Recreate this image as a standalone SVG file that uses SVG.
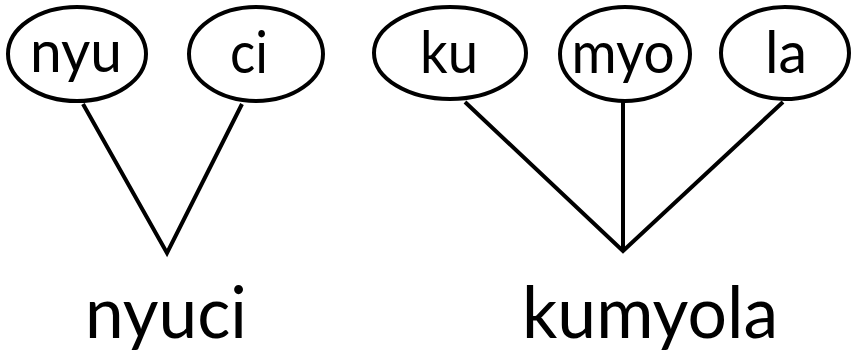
<svg xmlns="http://www.w3.org/2000/svg" width="852" height="357" viewBox="0 0 852 357">
<style>
.node ellipse{fill:#fff;stroke:#000;stroke-width:4}
.lbl{font-family:Lato,"Open Sans","Liberation Sans",sans-serif;font-size:58px;fill:#000;text-anchor:middle}
.word{font-family:Lato,"Open Sans","Liberation Sans",sans-serif;font-size:72px;fill:#000;text-anchor:middle}
.conn{fill:none;stroke:#000;stroke-width:4;stroke-linejoin:miter;stroke-miterlimit:20}
</style>
<rect width="852" height="357" fill="#fff"/>
<g id="connectors" class="conn">
<polyline points="83,104 167,253 242,104"/>
<polyline points="465,102 623,251 783,102"/>
<line x1="623" y1="102" x2="623" y2="251"/>
</g>
<g id="node-nyu" class="node"><ellipse cx="77" cy="54" rx="69" ry="47"/><text class="lbl" x="76" y="72" textLength="92" lengthAdjust="spacingAndGlyphs">nyu</text></g>
<g id="node-ci" class="node"><ellipse cx="256" cy="54" rx="67" ry="47"/><text class="lbl" x="249" y="73" textLength="38" lengthAdjust="spacingAndGlyphs">ci</text></g>
<g id="node-ku" class="node"><ellipse cx="450" cy="53" rx="76" ry="46"/><text class="lbl" x="449" y="73" textLength="58" lengthAdjust="spacingAndGlyphs">ku</text></g>
<g id="node-myo" class="node"><ellipse cx="625" cy="54" rx="65" ry="47"/><text class="lbl" x="623" y="73" textLength="103" lengthAdjust="spacingAndGlyphs">myo</text></g>
<g id="node-la" class="node"><ellipse cx="785" cy="53" rx="64" ry="46"/><text class="lbl" x="786" y="73" textLength="42" lengthAdjust="spacingAndGlyphs">la</text></g>
<g id="node-nyuci"><text class="word" x="166" y="338" textLength="162" lengthAdjust="spacingAndGlyphs">nyuci</text></g>
<g id="node-kumyola"><text class="word" x="650" y="338" textLength="256" lengthAdjust="spacingAndGlyphs">kumyola</text></g>
</svg>
